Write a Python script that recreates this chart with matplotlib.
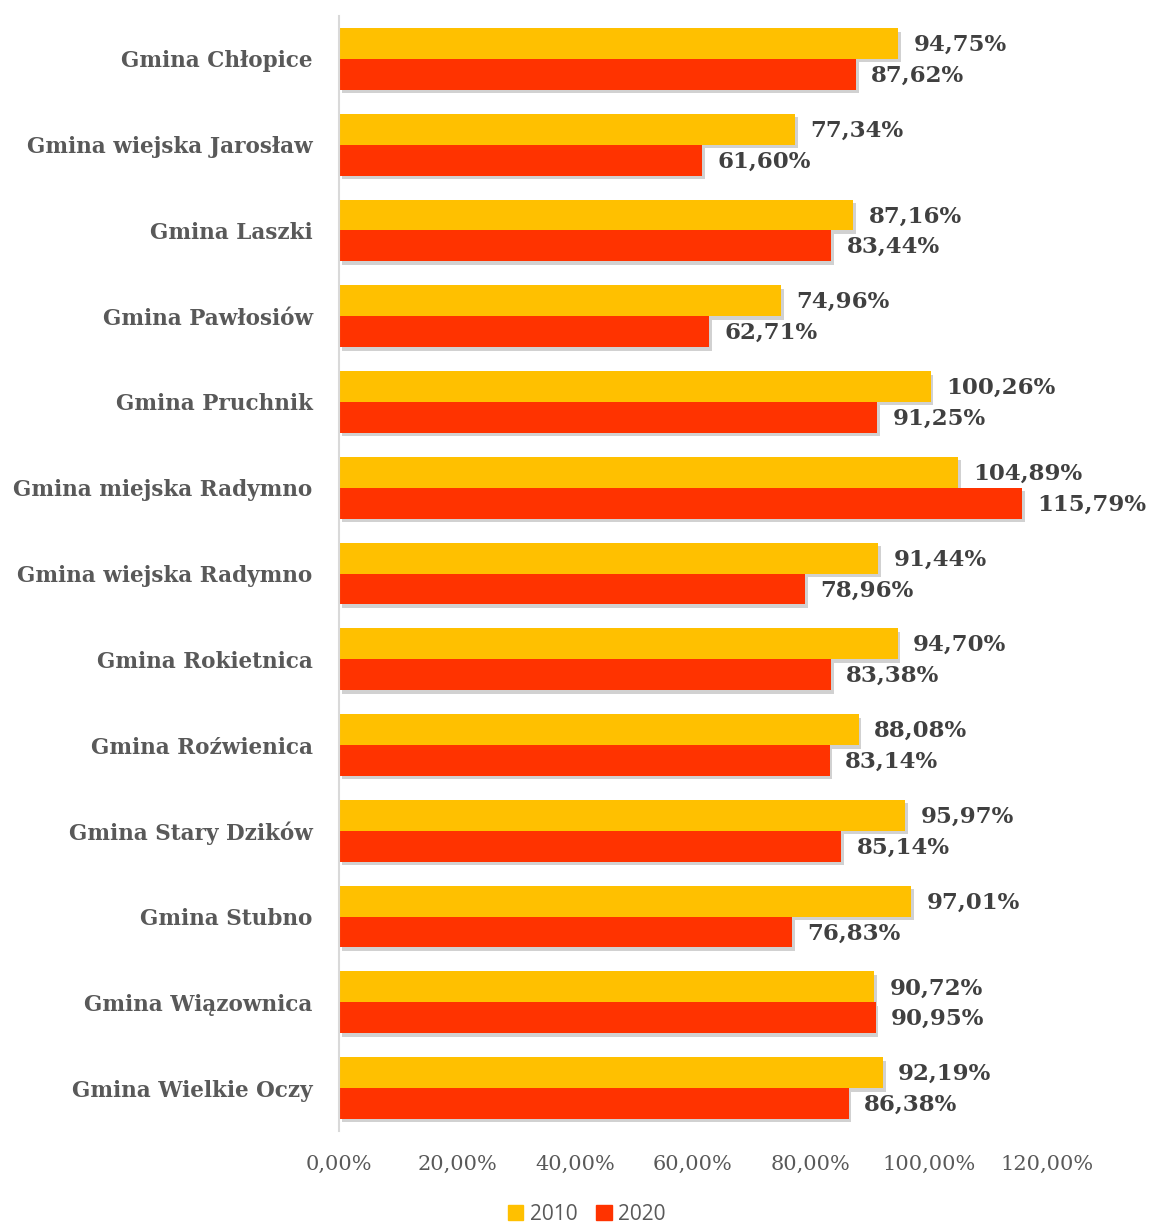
import numpy as np
import matplotlib.pyplot as plt
import matplotlib.patheffects as pe
from matplotlib.patches import Patch

gminy = ["Gmina Chłopice", "Gmina wiejska Jarosław", "Gmina Laszki", "Gmina Pawłosiów",
         "Gmina Pruchnik", "Gmina miejska Radymno", "Gmina wiejska Radymno",
         "Gmina Rokietnica", "Gmina Roźwienica", "Gmina Stary Dzików", "Gmina Stubno",
         "Gmina Wiązownica", "Gmina Wielkie Oczy"]
v2010 = [94.75, 77.34, 87.16, 74.96, 100.26, 104.89, 91.44, 94.70, 88.08, 95.97, 97.01, 90.72, 92.19]
v2020 = [87.62, 61.60, 83.44, 62.71, 91.25, 115.79, 78.96, 83.38, 83.14, 85.14, 76.83, 90.95, 86.38]
lata = ["2010", "2020"]
kolory = ["#FFC000", "#FF3300"]
ticks = [0, 20, 40, 60, 80, 100, 120]

def pl(v):
    return f"{v:.2f}%".replace(".", ",")

fig = plt.figure(figsize=(11.5, 12.23), dpi=100)
ax = fig.add_axes([0.2948, 0.0752, 0.6156, 0.9117])

y = np.arange(len(gminy))
h = 0.36
shadow = [pe.SimplePatchShadow(offset=(2, -2.5), shadow_rgbFace="#000000", alpha=0.18), pe.Normal()]
b1 = ax.barh(y - h / 2, v2010, height=h, color=kolory[0], path_effects=shadow)
b2 = ax.barh(y + h / 2, v2020, height=h, color=kolory[1], path_effects=shadow)

for bars, vals in ((b1, v2010), (b2, v2020)):
    for b, v in zip(bars, vals):
        ax.annotate(pl(v), (b.get_width(), b.get_y() + b.get_height() / 2),
                    xytext=(11, -1), textcoords="offset points", va="center", ha="left",
                    fontsize=16.5, fontweight="bold", color="#404040", family="DejaVu Serif")

ax.set_ylim(len(gminy) - 0.5, -0.5)
ax.set_xlim(0, 120)
ax.set_yticks(y)
ax.set_yticklabels(gminy, fontsize=15.5, fontweight="bold", color="#595959", family="DejaVu Serif")
ax.set_xticks(ticks)
ax.set_xticklabels([pl(t) for t in ticks], fontsize=15, color="#595959", family="DejaVu Serif")
ax.tick_params(axis="both", length=0)
ax.tick_params(axis="y", pad=19)
ax.tick_params(axis="x", pad=17)
for s in ["top", "right", "bottom"]:
    ax.spines[s].set_visible(False)
ax.spines["left"].set_color("#D9D9D9")
ax.spines["left"].set_linewidth(1.5)

handles = [Patch(color=c) for c in kolory]
fig.legend(handles=handles, labels=lata, loc="lower center", bbox_to_anchor=(0.51, -0.017),
           ncol=2, frameon=False, prop={"family": "Open Sans", "size": 15},
           handlelength=0.75, handleheight=0.75, handletextpad=0.3, columnspacing=0.9,
           labelcolor="#595959")

fig.savefig("out.png", dpi=100)
